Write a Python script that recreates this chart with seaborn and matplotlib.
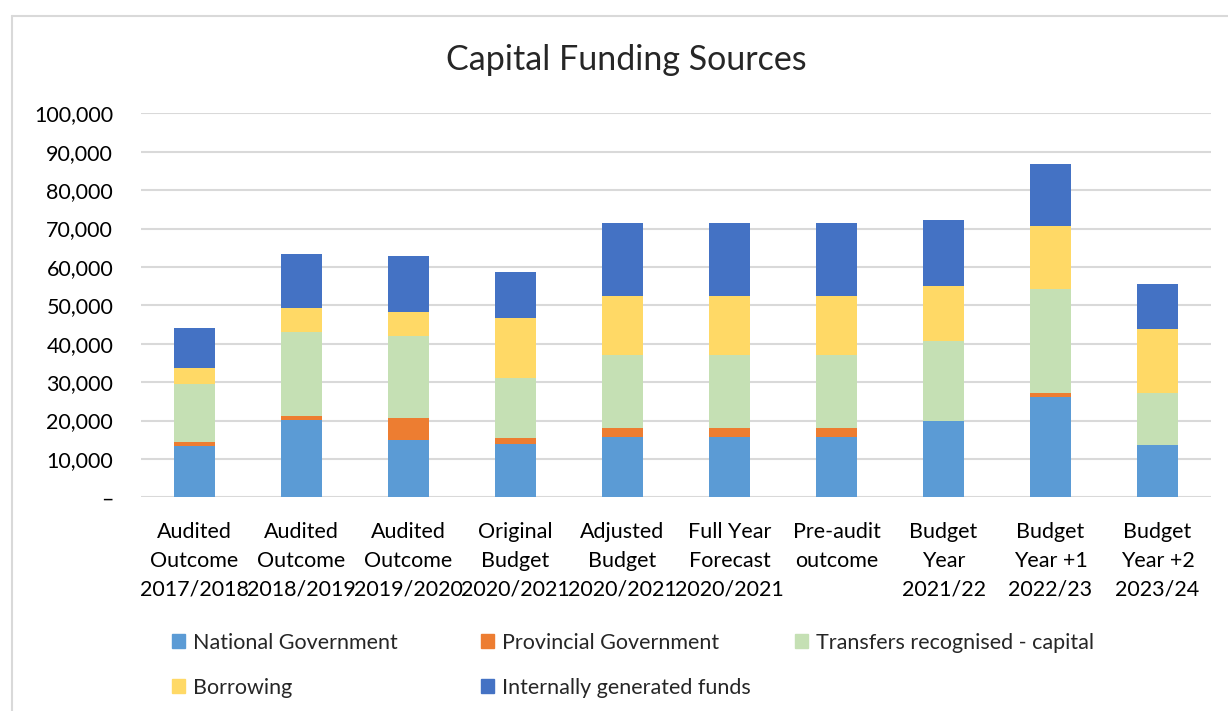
import matplotlib.pyplot as plt
import matplotlib.lines as mlines
import matplotlib.patches as mpatches
import numpy as np
import pandas as pd
import seaborn as sns

categories = ["Audited\nOutcome\n2017/2018", "Audited\nOutcome\n2018/2019", "Audited\nOutcome\n2019/2020",
              "Original\nBudget\n2020/2021", "Adjusted\nBudget\n2020/2021", "Full Year\nForecast\n2020/2021",
              "Pre-audit\noutcome\n", "Budget\nYear\n2021/22", "Budget\nYear +1\n2022/23", "Budget\nYear +2\n2023/24"]

national = [13450, 20200, 15020, 13940, 15590, 15590, 15590, 19910, 26150, 13680]
provincial = [1050, 980, 5640, 1480, 2440, 2440, 2440, 0, 1040, 0]
transfers = [15100, 21960, 21350, 15760, 18900, 18900, 18900, 20780, 27010, 13510]
borrowing = [4170, 6160, 6250, 15600, 15600, 15600, 15600, 14460, 16450, 16530]
internal = [10330, 14070, 14590, 12020, 18810, 18810, 18810, 17060, 16100, 11950]

series = ["National Government", "Provincial Government", "Transfers recognised - capital",
          "Borrowing", "Internally generated funds"]
colors = ["#5B9BD5", "#ED7D31", "#C5E0B4", "#FFD966", "#4472C4"]

df = pd.DataFrame({"cat": categories, series[0]: national, series[1]: provincial,
                   series[2]: transfers, series[3]: borrowing, series[4]: internal})
cum = df[series].cumsum(axis=1)

sns.set_style("white")
plt.rcParams['font.family'] = ['Lato', 'DejaVu Sans']

fig = plt.figure(figsize=(12.28, 7.11), dpi=100)
ax = fig.add_axes([141/1228, 1 - 497.3/711, 1070/1228, (497.3 - 113.3)/711])

# stacked bars: draw cumulative totals from the top series down
for s, c in reversed(list(zip(series, colors))):
    sns.barplot(x=df["cat"], y=cum[s], color=c, width=0.39, saturation=1,
                linewidth=0, ax=ax, zorder=3)

ax.set_ylim(0, 100000)
ax.set_yticks(np.arange(0, 100001, 10000))
ax.set_yticklabels(["–"] + [f"{v:,}" for v in range(10000, 100001, 10000)])
ax.grid(axis="y", color="#d9d9d9", linewidth=1.5, zorder=0)
ax.set_axisbelow(True)
for sp in ax.spines.values():
    sp.set_visible(False)
ax.set_xlabel("")
ax.set_ylabel("")
ax.tick_params(axis="y", length=0, pad=20, labelsize=15.5, labelcolor="#000000")
ax.tick_params(axis="x", length=0, pad=18, labelsize=15.5, labelcolor="#000000")
for t in ax.get_xticklabels():
    t.set_linespacing(1.55)
    t.set_verticalalignment("top")

fig.text(0.51, 1 - 60/711, "Capital Funding Sources", ha="center", va="center", fontsize=24.5)

# legend: Excel-style equal columns, one legend per column
handles = [mpatches.Patch(color=c, label=s) for s, c in zip(series, colors)]
columns = [[0, 3], [1, 4], [2]]
col_x = [161, 470, 784]
for idx, x in zip(columns, col_x):
    leg = fig.legend([handles[i] for i in idx], [series[i] for i in idx],
                     loc="upper left", bbox_to_anchor=(x/1228, 1 - 622/711), frameon=False,
                     fontsize=15.5, handlelength=0.6, handleheight=0.6, handletextpad=0.4,
                     labelspacing=1.15, borderpad=0)

# chart frame (left and top edges visible)
fig.add_artist(mlines.Line2D([11.5/1228, 11.5/1228], [0, 1 - 15.5/711], color="#d9d9d9", linewidth=1.5))
fig.add_artist(mlines.Line2D([11.5/1228, 1], [1 - 15.5/711, 1 - 15.5/711], color="#d9d9d9", linewidth=1.5))

fig.savefig("out.png", dpi=100, facecolor="white")
